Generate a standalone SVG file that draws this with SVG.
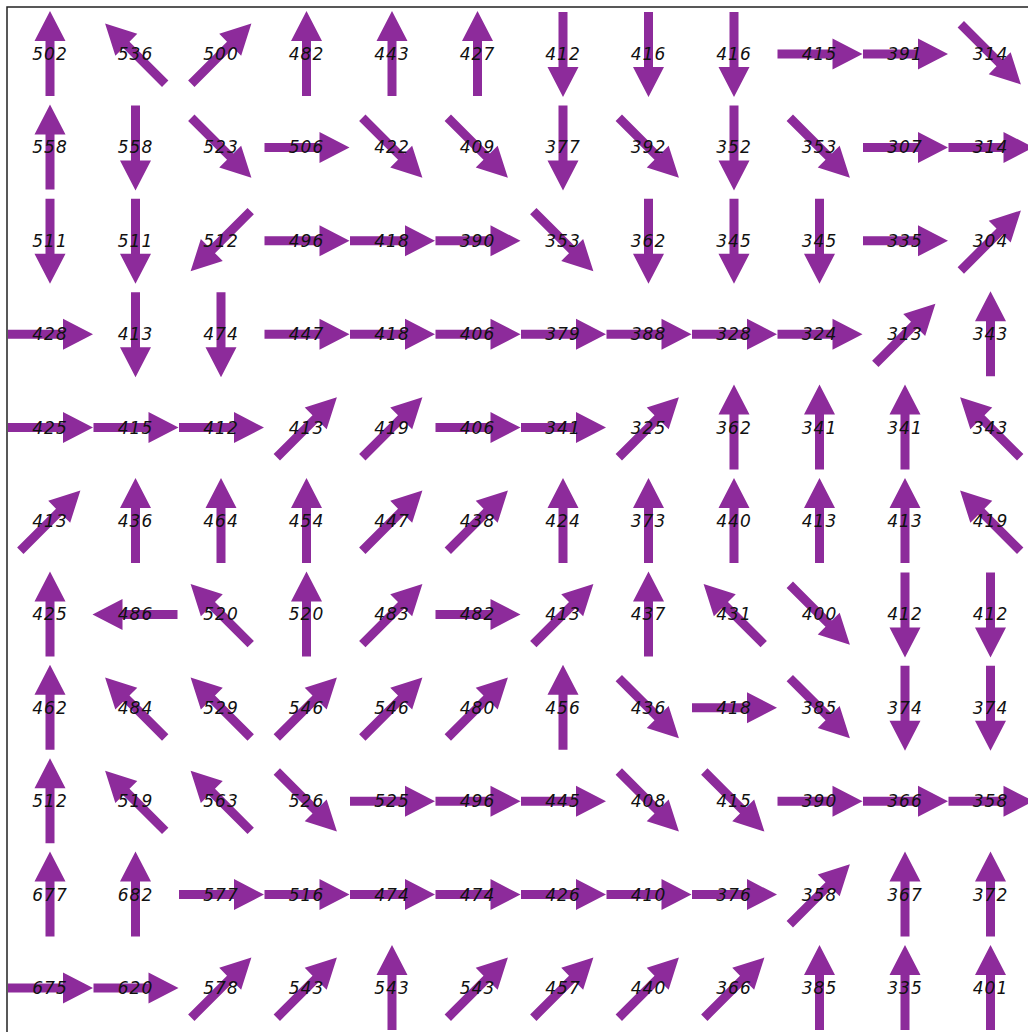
<svg xmlns="http://www.w3.org/2000/svg" xmlns:xlink="http://www.w3.org/1999/xlink" width="1028" height="1032" viewBox="0 0 1028 1032">
<style>
.ar{fill:#8d2b9b}
.t{font-family:"DejaVu Sans","Liberation Sans",sans-serif;font-style:italic;font-size:17px;letter-spacing:1px;fill:#111;text-anchor:middle}
.fr{stroke:#222;stroke-width:1.5;fill:none}
</style>
<defs>
<path id="a" d="M-42,-4.5 L13,-4.5 L13,-15.5 L43,0 L13,15.5 L13,4.5 L-42,4.5 Z"/>
</defs>
<rect width="1028" height="1032" fill="#fff"/>
<path class="fr" d="M7,1032 L7,7 L1028,7"/>
<g id="connectors" class="ar">
<use xlink:href="#a" transform="translate(50,54) rotate(-90)"/>
<use xlink:href="#a" transform="translate(135.5,54) rotate(-135)"/>
<use xlink:href="#a" transform="translate(221,54) rotate(-45)"/>
<use xlink:href="#a" transform="translate(306.5,54) rotate(-90)"/>
<use xlink:href="#a" transform="translate(392,54) rotate(-90)"/>
<use xlink:href="#a" transform="translate(477.5,54) rotate(-90)"/>
<use xlink:href="#a" transform="translate(563,54) rotate(90)"/>
<use xlink:href="#a" transform="translate(648.5,54) rotate(90)"/>
<use xlink:href="#a" transform="translate(734,54) rotate(90)"/>
<use xlink:href="#a" transform="translate(819.5,54) rotate(0)"/>
<use xlink:href="#a" transform="translate(905,54) rotate(0)"/>
<use xlink:href="#a" transform="translate(990.5,54) rotate(45)"/>

<use xlink:href="#a" transform="translate(50,147.4) rotate(-90)"/>
<use xlink:href="#a" transform="translate(135.5,147.4) rotate(90)"/>
<use xlink:href="#a" transform="translate(221,147.4) rotate(45)"/>
<use xlink:href="#a" transform="translate(306.5,147.4) rotate(0)"/>
<use xlink:href="#a" transform="translate(392,147.4) rotate(45)"/>
<use xlink:href="#a" transform="translate(477.5,147.4) rotate(45)"/>
<use xlink:href="#a" transform="translate(563,147.4) rotate(90)"/>
<use xlink:href="#a" transform="translate(648.5,147.4) rotate(45)"/>
<use xlink:href="#a" transform="translate(734,147.4) rotate(90)"/>
<use xlink:href="#a" transform="translate(819.5,147.4) rotate(45)"/>
<use xlink:href="#a" transform="translate(905,147.4) rotate(0)"/>
<use xlink:href="#a" transform="translate(990.5,147.4) rotate(0)"/>

<use xlink:href="#a" transform="translate(50,240.8) rotate(90)"/>
<use xlink:href="#a" transform="translate(135.5,240.8) rotate(90)"/>
<use xlink:href="#a" transform="translate(221,240.8) rotate(135)"/>
<use xlink:href="#a" transform="translate(306.5,240.8) rotate(0)"/>
<use xlink:href="#a" transform="translate(392,240.8) rotate(0)"/>
<use xlink:href="#a" transform="translate(477.5,240.8) rotate(0)"/>
<use xlink:href="#a" transform="translate(563,240.8) rotate(45)"/>
<use xlink:href="#a" transform="translate(648.5,240.8) rotate(90)"/>
<use xlink:href="#a" transform="translate(734,240.8) rotate(90)"/>
<use xlink:href="#a" transform="translate(819.5,240.8) rotate(90)"/>
<use xlink:href="#a" transform="translate(905,240.8) rotate(0)"/>
<use xlink:href="#a" transform="translate(990.5,240.8) rotate(-45)"/>

<use xlink:href="#a" transform="translate(50,334.2) rotate(0)"/>
<use xlink:href="#a" transform="translate(135.5,334.2) rotate(90)"/>
<use xlink:href="#a" transform="translate(221,334.2) rotate(90)"/>
<use xlink:href="#a" transform="translate(306.5,334.2) rotate(0)"/>
<use xlink:href="#a" transform="translate(392,334.2) rotate(0)"/>
<use xlink:href="#a" transform="translate(477.5,334.2) rotate(0)"/>
<use xlink:href="#a" transform="translate(563,334.2) rotate(0)"/>
<use xlink:href="#a" transform="translate(648.5,334.2) rotate(0)"/>
<use xlink:href="#a" transform="translate(734,334.2) rotate(0)"/>
<use xlink:href="#a" transform="translate(819.5,334.2) rotate(0)"/>
<use xlink:href="#a" transform="translate(905,334.2) rotate(-45)"/>
<use xlink:href="#a" transform="translate(990.5,334.2) rotate(-90)"/>

<use xlink:href="#a" transform="translate(50,427.6) rotate(0)"/>
<use xlink:href="#a" transform="translate(135.5,427.6) rotate(0)"/>
<use xlink:href="#a" transform="translate(221,427.6) rotate(0)"/>
<use xlink:href="#a" transform="translate(306.5,427.6) rotate(-45)"/>
<use xlink:href="#a" transform="translate(392,427.6) rotate(-45)"/>
<use xlink:href="#a" transform="translate(477.5,427.6) rotate(0)"/>
<use xlink:href="#a" transform="translate(563,427.6) rotate(0)"/>
<use xlink:href="#a" transform="translate(648.5,427.6) rotate(-45)"/>
<use xlink:href="#a" transform="translate(734,427.6) rotate(-90)"/>
<use xlink:href="#a" transform="translate(819.5,427.6) rotate(-90)"/>
<use xlink:href="#a" transform="translate(905,427.6) rotate(-90)"/>
<use xlink:href="#a" transform="translate(990.5,427.6) rotate(-135)"/>

<use xlink:href="#a" transform="translate(50,521) rotate(-45)"/>
<use xlink:href="#a" transform="translate(135.5,521) rotate(-90)"/>
<use xlink:href="#a" transform="translate(221,521) rotate(-90)"/>
<use xlink:href="#a" transform="translate(306.5,521) rotate(-90)"/>
<use xlink:href="#a" transform="translate(392,521) rotate(-45)"/>
<use xlink:href="#a" transform="translate(477.5,521) rotate(-45)"/>
<use xlink:href="#a" transform="translate(563,521) rotate(-90)"/>
<use xlink:href="#a" transform="translate(648.5,521) rotate(-90)"/>
<use xlink:href="#a" transform="translate(734,521) rotate(-90)"/>
<use xlink:href="#a" transform="translate(819.5,521) rotate(-90)"/>
<use xlink:href="#a" transform="translate(905,521) rotate(-90)"/>
<use xlink:href="#a" transform="translate(990.5,521) rotate(-135)"/>

<use xlink:href="#a" transform="translate(50,614.4) rotate(-90)"/>
<use xlink:href="#a" transform="translate(135.5,614.4) rotate(180)"/>
<use xlink:href="#a" transform="translate(221,614.4) rotate(-135)"/>
<use xlink:href="#a" transform="translate(306.5,614.4) rotate(-90)"/>
<use xlink:href="#a" transform="translate(392,614.4) rotate(-45)"/>
<use xlink:href="#a" transform="translate(477.5,614.4) rotate(0)"/>
<use xlink:href="#a" transform="translate(563,614.4) rotate(-45)"/>
<use xlink:href="#a" transform="translate(648.5,614.4) rotate(-90)"/>
<use xlink:href="#a" transform="translate(734,614.4) rotate(-135)"/>
<use xlink:href="#a" transform="translate(819.5,614.4) rotate(45)"/>
<use xlink:href="#a" transform="translate(905,614.4) rotate(90)"/>
<use xlink:href="#a" transform="translate(990.5,614.4) rotate(90)"/>

<use xlink:href="#a" transform="translate(50,707.8) rotate(-90)"/>
<use xlink:href="#a" transform="translate(135.5,707.8) rotate(-135)"/>
<use xlink:href="#a" transform="translate(221,707.8) rotate(-135)"/>
<use xlink:href="#a" transform="translate(306.5,707.8) rotate(-45)"/>
<use xlink:href="#a" transform="translate(392,707.8) rotate(-45)"/>
<use xlink:href="#a" transform="translate(477.5,707.8) rotate(-45)"/>
<use xlink:href="#a" transform="translate(563,707.8) rotate(-90)"/>
<use xlink:href="#a" transform="translate(648.5,707.8) rotate(45)"/>
<use xlink:href="#a" transform="translate(734,707.8) rotate(0)"/>
<use xlink:href="#a" transform="translate(819.5,707.8) rotate(45)"/>
<use xlink:href="#a" transform="translate(905,707.8) rotate(90)"/>
<use xlink:href="#a" transform="translate(990.5,707.8) rotate(90)"/>

<use xlink:href="#a" transform="translate(50,801.2) rotate(-90)"/>
<use xlink:href="#a" transform="translate(135.5,801.2) rotate(-135)"/>
<use xlink:href="#a" transform="translate(221,801.2) rotate(-135)"/>
<use xlink:href="#a" transform="translate(306.5,801.2) rotate(45)"/>
<use xlink:href="#a" transform="translate(392,801.2) rotate(0)"/>
<use xlink:href="#a" transform="translate(477.5,801.2) rotate(0)"/>
<use xlink:href="#a" transform="translate(563,801.2) rotate(0)"/>
<use xlink:href="#a" transform="translate(648.5,801.2) rotate(45)"/>
<use xlink:href="#a" transform="translate(734,801.2) rotate(45)"/>
<use xlink:href="#a" transform="translate(819.5,801.2) rotate(0)"/>
<use xlink:href="#a" transform="translate(905,801.2) rotate(0)"/>
<use xlink:href="#a" transform="translate(990.5,801.2) rotate(0)"/>

<use xlink:href="#a" transform="translate(50,894.6) rotate(-90)"/>
<use xlink:href="#a" transform="translate(135.5,894.6) rotate(-90)"/>
<use xlink:href="#a" transform="translate(221,894.6) rotate(0)"/>
<use xlink:href="#a" transform="translate(306.5,894.6) rotate(0)"/>
<use xlink:href="#a" transform="translate(392,894.6) rotate(0)"/>
<use xlink:href="#a" transform="translate(477.5,894.6) rotate(0)"/>
<use xlink:href="#a" transform="translate(563,894.6) rotate(0)"/>
<use xlink:href="#a" transform="translate(648.5,894.6) rotate(0)"/>
<use xlink:href="#a" transform="translate(734,894.6) rotate(0)"/>
<use xlink:href="#a" transform="translate(819.5,894.6) rotate(-45)"/>
<use xlink:href="#a" transform="translate(905,894.6) rotate(-90)"/>
<use xlink:href="#a" transform="translate(990.5,894.6) rotate(-90)"/>

<use xlink:href="#a" transform="translate(50,988) rotate(0)"/>
<use xlink:href="#a" transform="translate(135.5,988) rotate(0)"/>
<use xlink:href="#a" transform="translate(221,988) rotate(-45)"/>
<use xlink:href="#a" transform="translate(306.5,988) rotate(-45)"/>
<use xlink:href="#a" transform="translate(392,988) rotate(-90)"/>
<use xlink:href="#a" transform="translate(477.5,988) rotate(-45)"/>
<use xlink:href="#a" transform="translate(563,988) rotate(-45)"/>
<use xlink:href="#a" transform="translate(648.5,988) rotate(-45)"/>
<use xlink:href="#a" transform="translate(734,988) rotate(-45)"/>
<use xlink:href="#a" transform="translate(819.5,988) rotate(-90)"/>
<use xlink:href="#a" transform="translate(905,988) rotate(-90)"/>
<use xlink:href="#a" transform="translate(990.5,988) rotate(-90)"/>
</g>
<g class="t">
<g id="r0">
<text x="50" y="60">502</text><text x="135.5" y="60">536</text><text x="221" y="60">500</text><text x="306.5" y="60">482</text><text x="392" y="60">443</text><text x="477.5" y="60">427</text><text x="563" y="60">412</text><text x="648.5" y="60">416</text><text x="734" y="60">416</text><text x="819.5" y="60">415</text><text x="905" y="60">391</text><text x="990.5" y="60">314</text>
</g>
<g id="r1">
<text x="50" y="153.4">558</text><text x="135.5" y="153.4">558</text><text x="221" y="153.4">523</text><text x="306.5" y="153.4">506</text><text x="392" y="153.4">422</text><text x="477.5" y="153.4">409</text><text x="563" y="153.4">377</text><text x="648.5" y="153.4">392</text><text x="734" y="153.4">352</text><text x="819.5" y="153.4">353</text><text x="905" y="153.4">307</text><text x="990.5" y="153.4">314</text>
</g>
<g id="r2">
<text x="50" y="246.8">511</text><text x="135.5" y="246.8">511</text><text x="221" y="246.8">512</text><text x="306.5" y="246.8">496</text><text x="392" y="246.8">418</text><text x="477.5" y="246.8">390</text><text x="563" y="246.8">353</text><text x="648.5" y="246.8">362</text><text x="734" y="246.8">345</text><text x="819.5" y="246.8">345</text><text x="905" y="246.8">335</text><text x="990.5" y="246.8">304</text>
</g>
<g id="r3">
<text x="50" y="340.2">428</text><text x="135.5" y="340.2">413</text><text x="221" y="340.2">474</text><text x="306.5" y="340.2">447</text><text x="392" y="340.2">418</text><text x="477.5" y="340.2">406</text><text x="563" y="340.2">379</text><text x="648.5" y="340.2">388</text><text x="734" y="340.2">328</text><text x="819.5" y="340.2">324</text><text x="905" y="340.2">313</text><text x="990.5" y="340.2">343</text>
</g>
<g id="r4">
<text x="50" y="433.6">425</text><text x="135.5" y="433.6">415</text><text x="221" y="433.6">412</text><text x="306.5" y="433.6">413</text><text x="392" y="433.6">419</text><text x="477.5" y="433.6">406</text><text x="563" y="433.6">341</text><text x="648.5" y="433.6">325</text><text x="734" y="433.6">362</text><text x="819.5" y="433.6">341</text><text x="905" y="433.6">341</text><text x="990.5" y="433.6">343</text>
</g>
<g id="r5">
<text x="50" y="527">413</text><text x="135.5" y="527">436</text><text x="221" y="527">464</text><text x="306.5" y="527">454</text><text x="392" y="527">447</text><text x="477.5" y="527">438</text><text x="563" y="527">424</text><text x="648.5" y="527">373</text><text x="734" y="527">440</text><text x="819.5" y="527">413</text><text x="905" y="527">413</text><text x="990.5" y="527">419</text>
</g>
<g id="r6">
<text x="50" y="620.4">425</text><text x="135.5" y="620.4">486</text><text x="221" y="620.4">520</text><text x="306.5" y="620.4">520</text><text x="392" y="620.4">483</text><text x="477.5" y="620.4">482</text><text x="563" y="620.4">413</text><text x="648.5" y="620.4">437</text><text x="734" y="620.4">431</text><text x="819.5" y="620.4">400</text><text x="905" y="620.4">412</text><text x="990.5" y="620.4">412</text>
</g>
<g id="r7">
<text x="50" y="713.8">462</text><text x="135.5" y="713.8">484</text><text x="221" y="713.8">529</text><text x="306.5" y="713.8">546</text><text x="392" y="713.8">546</text><text x="477.5" y="713.8">480</text><text x="563" y="713.8">456</text><text x="648.5" y="713.8">436</text><text x="734" y="713.8">418</text><text x="819.5" y="713.8">385</text><text x="905" y="713.8">374</text><text x="990.5" y="713.8">374</text>
</g>
<g id="r8">
<text x="50" y="807.2">512</text><text x="135.5" y="807.2">519</text><text x="221" y="807.2">563</text><text x="306.5" y="807.2">526</text><text x="392" y="807.2">525</text><text x="477.5" y="807.2">496</text><text x="563" y="807.2">445</text><text x="648.5" y="807.2">408</text><text x="734" y="807.2">415</text><text x="819.5" y="807.2">390</text><text x="905" y="807.2">366</text><text x="990.5" y="807.2">358</text>
</g>
<g id="r9">
<text x="50" y="900.6">677</text><text x="135.5" y="900.6">682</text><text x="221" y="900.6">577</text><text x="306.5" y="900.6">516</text><text x="392" y="900.6">474</text><text x="477.5" y="900.6">474</text><text x="563" y="900.6">426</text><text x="648.5" y="900.6">410</text><text x="734" y="900.6">376</text><text x="819.5" y="900.6">358</text><text x="905" y="900.6">367</text><text x="990.5" y="900.6">372</text>
</g>
<g id="r10">
<text x="50" y="994">675</text><text x="135.5" y="994">620</text><text x="221" y="994">578</text><text x="306.5" y="994">543</text><text x="392" y="994">543</text><text x="477.5" y="994">543</text><text x="563" y="994">457</text><text x="648.5" y="994">440</text><text x="734" y="994">366</text><text x="819.5" y="994">385</text><text x="905" y="994">335</text><text x="990.5" y="994">401</text>
</g>
</g>
</svg>
